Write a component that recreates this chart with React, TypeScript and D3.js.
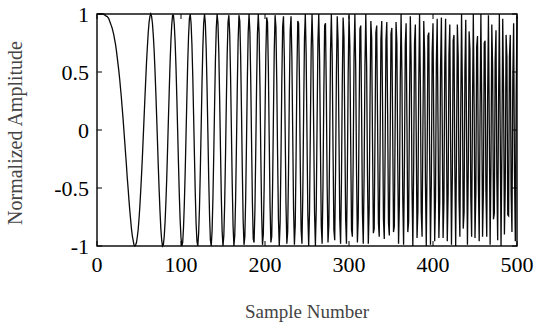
import React, { useEffect, useRef } from 'react';
import * as d3 from 'd3';

// chirp samples, sample 0..500
const signal: number[] = [
  1.00, 1.00, 1.00, 1.00, 1.00, 1.00, 1.00, 1.00, 1.00, 0.99,
  0.99, 0.98, 0.98, 0.97, 0.96, 0.94, 0.92, 0.90, 0.88, 0.85,
  0.82, 0.78, 0.74, 0.69, 0.63, 0.57, 0.51, 0.44, 0.36, 0.28,
  0.19, 0.10, 0.00, -0.10, -0.20, -0.30, -0.41, -0.50, -0.60, -0.69,
  -0.77, -0.85, -0.91, -0.95, -0.99, -1.00, -0.99, -0.97, -0.92, -0.86,
  -0.77, -0.66, -0.53, -0.39, -0.24, -0.07, 0.10, 0.27, 0.43, 0.59,
  0.72, 0.84, 0.93, 0.98, 1.00, 0.98, 0.92, 0.82, 0.69, 0.52,
  0.33, 0.12, -0.10, -0.32, -0.52, -0.70, -0.85, -0.95, -1.00, -0.99,
  -0.92, -0.80, -0.63, -0.42, -0.17, 0.09, 0.34, 0.58, 0.77, 0.91,
  0.99, 0.99, 0.91, 0.76, 0.55, 0.29, 0.00, -0.29, -0.56, -0.78,
  -0.93, -1.00, -0.97, -0.84, -0.63, -0.36, -0.04, 0.28, 0.58, 0.81,
  0.96, 1.00, 0.92, 0.74, 0.47, 0.13, -0.22, -0.55, -0.81, -0.96,
  -1.00, -0.89, -0.67, -0.35, 0.02, 0.40, 0.71, 0.92, 1.00, 0.92,
  0.70, 0.37, -0.02, -0.42, -0.74, -0.95, -1.00, -0.87, -0.59, -0.21,
  0.22, 0.61, 0.88, 1.00, 0.92, 0.67, 0.28, -0.16, -0.58, -0.88,
  -1.00, -0.91, -0.63, -0.22, 0.25, 0.66, 0.93, 0.99, 0.83, 0.47,
  0.00, -0.47, -0.83, -1.00, -0.91, -0.60, -0.14, 0.36, 0.77, 0.99,
  0.94, 0.64, 0.17, -0.35, -0.78, -0.99, -0.92, -0.59, -0.09, 0.44,
  0.84, 1.00, 0.85, 0.45, -0.10, -0.62, -0.94, -0.97, -0.69, -0.18,
  0.39, 0.83, 1.00, 0.83, 0.38, -0.21, -0.72, -0.99, -0.90, -0.49,
  0.10, 0.65, 0.97, 0.93, 0.53, -0.06, -0.64, -0.97, -0.92, -0.51,
  0.10, 0.68, 0.99, 0.89, 0.42, -0.22, -0.77, -1.00, -0.80, -0.25,
  0.41, 0.89, 0.98, 0.63, 0.00, -0.64, -0.98, -0.88, -0.36, 0.33,
  0.86, 0.98, 0.63, -0.03, -0.68, -0.99, -0.82, -0.23, 0.48, 0.94,
  0.92, 0.43, -0.30, -0.86, -0.98, -0.56, 0.15, 0.79, 1.00, 0.65,
  -0.06, -0.73, -1.00, -0.70, 0.01, 0.71, 1.00, 0.71, -0.01, -0.72,
  -1.00, -0.68, 0.06, 0.76, 1.00, 0.61, -0.15, -0.83, -0.98, -0.50,
  0.30, 0.90, 0.92, 0.34, -0.48, -0.97, -0.82, -0.11, 0.68, 1.00,
  0.63, -0.17, -0.86, -0.95, -0.36, 0.48, 0.98, 0.77, 0.00, -0.77,
  -0.98, -0.46, 0.41, 0.97, 0.80, 0.02, -0.77, -0.98, -0.42, 0.46,
  0.99, 0.73, -0.10, -0.86, -0.92, -0.24, 0.64, 1.00, 0.53, -0.37,
  -0.97, -0.76, 0.10, 0.87, 0.90, 0.16, -0.72, -0.98, -0.38, 0.56,
  1.00, 0.55, -0.39, -0.98, -0.69, 0.23, 0.94, 0.79, -0.10, -0.89,
  -0.85, -0.01, 0.84, 0.90, 0.09, -0.80, -0.92, -0.15, 0.78, 0.94,
  0.17, -0.77, -0.94, -0.17, 0.77, 0.93, 0.14, -0.80, -0.91, -0.08,
  0.83, 0.88, 0.00, -0.88, -0.83, 0.11, 0.93, 0.75, -0.25, -0.98,
  -0.63, 0.41, 1.00, 0.48, -0.58, -0.99, -0.28, 0.74, 0.92, 0.05,
  -0.88, -0.79, 0.22, 0.98, 0.59, -0.49, -1.00, -0.31, 0.75, 0.91,
  -0.02, -0.93, -0.70, 0.38, 1.00, 0.38, -0.71, -0.92, 0.02, 0.94,
  0.67, -0.45, -1.00, -0.27, 0.81, 0.84, -0.22, -0.99, -0.47, 0.67,
  0.92, -0.05, -0.96, -0.58, 0.58, 0.96, 0.04, -0.93, -0.63, 0.54,
  0.97, 0.06, -0.93, -0.62, 0.56, 0.96, 0.00, -0.96, -0.55, 0.65,
  0.91, -0.14, -0.99, -0.40, 0.77, 0.82, -0.34, -1.00, -0.17, 0.91,
  0.63, -0.60, -0.92, 0.15, 1.00, 0.32, -0.85, -0.71, 0.52, 0.95,
  -0.10, -0.99, -0.33, 0.85, 0.69, -0.57, -0.92, 0.20, 1.00, 0.19,
  -0.93, -0.54, 0.72, 0.81, -0.43, -0.96, 0.10, 1.00, 0.24, -0.92,
  -0.53, 0.75, 0.77, -0.52, -0.92, 0.24, 0.99, 0.04, -0.99, -0.30,
  0.91, 0.53, -0.77, -0.72, 0.60, 0.86, -0.41, -0.95, 0.20, 1.00,
  0.00, -1.00, -0.19, 0.96, 0.36, -0.90, -0.51, 0.82, 0.63, -0.73,
  -0.74, 0.63, 0.82, -0.53, -0.88, 0.43, 0.92, -0.34, -0.96, 0.26,
  0.98,
];

const xTicks = [0, 100, 200, 300, 400, 500];
const yTicks = [1, 0.5, 0, -0.5, -1];
const xTitle = 'Sample Number';
const yTitle = 'Normalized Amplitude';

const App: React.FC = () => {
  const svgRef = useRef<SVGSVGElement | null>(null);

  useEffect(() => {
    if (!svgRef.current) return;
    const width = 535;
    const height = 328;
    const margin = { top: 14, right: 18, bottom: 82, left: 97 };

    const svg = d3.select(svgRef.current);
    svg.selectAll('*').remove();

    const x = d3.scaleLinear().domain([0, 500]).range([margin.left, width - margin.right]);
    const y = d3.scaleLinear().domain([-1, 1]).range([height - margin.bottom, margin.top]);

    const font = "'Liberation Serif', 'DejaVu Serif', serif";
    const g = svg.append('g');

    // signal
    const line = d3.line<number>().x((_, i) => x(i)).y(d => y(d));
    g.append('path')
      .datum(signal)
      .attr('fill', 'none')
      .attr('stroke', '#0a0a0a')
      .attr('stroke-width', 1.3)
      .attr('d', line);

    // box
    g.append('rect')
      .attr('x', x(0)).attr('y', y(1))
      .attr('width', x(500) - x(0)).attr('height', y(-1) - y(1))
      .attr('fill', 'none').attr('stroke', '#000').attr('stroke-width', 1.4);

    // inward ticks
    const tl = 5;
    yTicks.forEach(t => {
      g.append('line').attr('x1', x(0)).attr('x2', x(0) + tl).attr('y1', y(t)).attr('y2', y(t)).attr('stroke', '#000');
      g.append('line').attr('x1', x(500)).attr('x2', x(500) - tl).attr('y1', y(t)).attr('y2', y(t)).attr('stroke', '#000');
    });
    xTicks.forEach(t => {
      g.append('line').attr('x1', x(t)).attr('x2', x(t)).attr('y1', y(-1)).attr('y2', y(-1) - tl).attr('stroke', '#000');
      g.append('line').attr('x1', x(t)).attr('x2', x(t)).attr('y1', y(1)).attr('y2', y(1) + tl).attr('stroke', '#000');
    });

    // tick labels
    g.selectAll('.ylab').data(yTicks).enter().append('text')
      .attr('x', x(0) - 8).attr('y', d => y(d))
      .attr('dy', '0.35em').attr('text-anchor', 'end')
      .attr('font-family', font).attr('font-size', 22).attr('fill', '#000')
      .text(d => String(d));

    g.selectAll('.xlab').data(xTicks).enter().append('text')
      .attr('x', d => x(d)).attr('y', y(-1) + 26)
      .attr('text-anchor', 'middle')
      .attr('font-family', font).attr('font-size', 22).attr('fill', '#000')
      .text(d => String(d));

    // axis titles
    g.append('text')
      .attr('x', (x(0) + x(500)) / 2).attr('y', 318)
      .attr('text-anchor', 'middle')
      .attr('font-family', font).attr('font-size', 19).attr('fill', '#444')
      .text(xTitle);

    g.append('text')
      .attr('transform', `translate(22, ${(y(1) + y(-1)) / 2 + 3}) rotate(-90)`)
      .attr('text-anchor', 'middle')
      .attr('font-family', font).attr('font-size', 20).attr('fill', '#444')
      .text(yTitle);
  }, []);

  return (
    <svg
      ref={svgRef}
      width={535}
      height={328}
      style={{ position: 'absolute', left: 0, top: 0, background: '#fff' }}
    />
  );
};

export default App;
